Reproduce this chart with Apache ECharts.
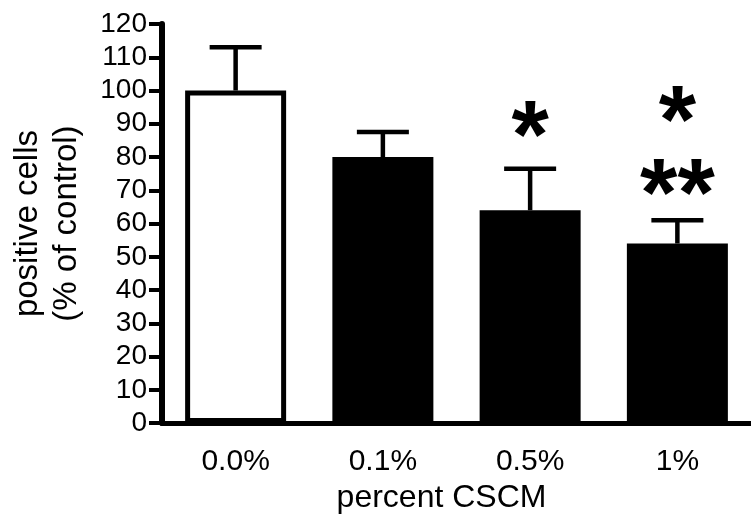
<!DOCTYPE html>
<html>
<head>
<meta charset="utf-8">
<script src="https://cdn.jsdelivr.net/npm/echarts@6/dist/echarts.min.js"></script>
<style>html,body{margin:0;padding:0;background:#fff}#c{width:751px;height:519px}</style>
</head>
<body>
<div id="c"></div>
<script>
const categories = ['0.0%', '0.1%', '0.5%', '1%'];
const means = [100, 80, 64, 54];
const upperErrors = [113, 87.5, 76.5, 61];
const starCategories = [2, 3, 3];
const starPositions = [90.5, 95, 73];
const starTexts = ['*', '*', '**'];
const yTicks = { min: 0, max: 120, interval: 10 };

const FONT = "'Liberation Sans', Arial, sans-serif";
const chart = echarts.init(document.getElementById('c'), null, { renderer: 'canvas' });

const errData = categories.map((c, i) => [i, means[i], upperErrors[i]]);
const starData = starCategories.map((c, i) => [c, starPositions[i], starTexts[i]]);

chart.setOption({
  animation: false,
  backgroundColor: '#fff',
  grid: { left: 156, top: 24, width: 600, height: 401 },
  xAxis: {
    type: 'category',
    data: categories,
    name: 'percent CSCM',
    nameLocation: 'middle',
    nameGap: 56,
    nameTextStyle: { fontFamily: FONT, fontSize: 32, color: '#000', padding: [0, 30, 0, 0] },
    axisLine: { lineStyle: { color: '#000', width: 5 } },
    axisTick: { alignWithLabel: true, length: 13, lineStyle: { color: '#000', width: 4 } },
    axisLabel: { fontFamily: FONT, fontSize: 30, color: '#000', margin: 24 },
    splitLine: { show: false }
  },
  yAxis: {
    type: 'value',
    min: yTicks.min, max: yTicks.max, interval: yTicks.interval,
    name: 'positive cells\n(% of control)',
    nameLocation: 'middle',
    nameGap: 76,
    nameRotate: 90,
    nameTextStyle: { fontFamily: FONT, fontSize: 33, color: '#000', lineHeight: 39 },
    axisLine: { show: true, lineStyle: { color: '#000', width: 6 } },
    axisTick: { show: true, length: 13, lineStyle: { color: '#000', width: 4 } },
    axisLabel: { fontFamily: FONT, fontSize: 28, color: '#000', margin: 15 },
    splitLine: { show: false }
  },
  series: [
    {
      type: 'bar',
      data: means,
      barWidth: 101,
      itemStyle: {
        color: p => p.dataIndex === 0 ? '#fff' : '#000',
        borderColor: '#000',
        borderWidth: 5
      },
      z: 2
    },
    {
      type: 'custom',
      data: errData,
      z: 3,
      renderItem: (params, api) => {
        const top = api.coord([api.value(0), api.value(2)]);
        const base = api.coord([api.value(0), api.value(1)]);
        const capHalf = 26;
        const style = { stroke: '#000', lineWidth: 4.5 };
        return {
          type: 'group',
          children: [
            { type: 'line', shape: { x1: top[0], y1: base[1], x2: top[0], y2: top[1] }, style },
            { type: 'line', shape: { x1: top[0] - capHalf, y1: top[1], x2: top[0] + capHalf, y2: top[1] }, style }
          ]
        };
      }
    },
    {
      type: 'scatter',
      data: starData,
      symbolSize: 0,
      z: 4,
      itemStyle: { opacity: 1, color: '#000' },
      label: {
        show: true,
        position: 'inside',
        offset: [0, 18],
        formatter: p => p.data[2],
        fontFamily: FONT,
        fontSize: 96,
        fontWeight: 'bold',
        color: '#000',
        opacity: 1
      }
    }
  ]
});
</script>
</body>
</html>
